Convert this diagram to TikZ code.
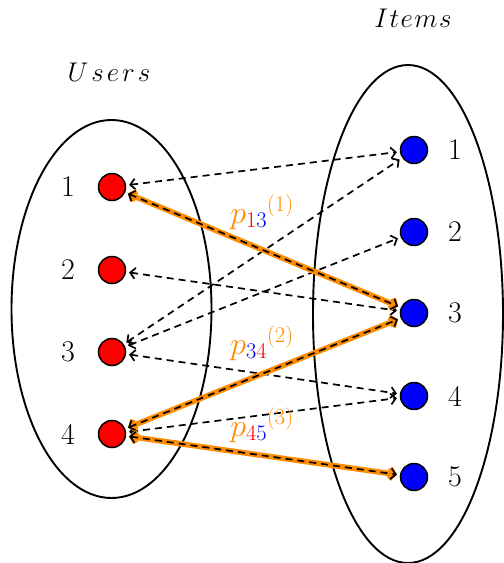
\RequirePackage{fix-cm}
\documentclass[tikz,border=0pt]{standalone}
\usetikzlibrary{arrows.meta}
\definecolor{myorange}{RGB}{255,140,0}
\tikzset{
  unode/.style={circle,draw=black,line width=1.5pt,fill=red,minimum size=27pt,inner sep=0pt},
  inode/.style={circle,draw=black,line width=1.5pt,fill=blue,minimum size=27pt,inner sep=0pt},
  numlab/.style={font=\fontsize{30}{34}\selectfont,inner sep=0pt},
  setlab/.style={font=\fontsize{27}{30}\selectfont,inner sep=0pt},
  plab/.style={font=\fontsize{32}{36}\selectfont,text=myorange,inner sep=0pt},
  blkedge/.style={draw=black,line width=1.7pt,dash pattern=on 7pt off 5pt,
    {Straight Barb[length=5pt,width=11pt,line width=1.7pt]}-{Straight Barb[length=5pt,width=11pt,line width=1.7pt]},
    shorten <=3pt,shorten >=3pt},
  orgedge/.style={draw=myorange,line width=5.5pt,
    {Straight Barb[length=4pt,width=11pt]}-{Straight Barb[length=4pt,width=11pt]},
    shorten <=3pt,shorten >=3pt},
  setellipse/.style={draw=black,line width=1.9pt}
}
\begin{document}
\begin{tikzpicture}[x=1pt,y=-1pt]
\useasboundingbox (0,0) rectangle (504,563);
% sets
\draw[setellipse] (111.5,309) ellipse [x radius=100pt, y radius=189pt];
\draw[setellipse] (408,314) ellipse [x radius=95pt, y radius=249pt];
\node[setlab] (users) at (109,72) {$U\mkern2mu s\mkern2mu e\mkern2mu r\mkern2mu s$};
\node[setlab] (items) at (413,18) {$I\mkern1mu t\mkern1mu e\mkern1mu m\mkern1mu s$};
% users
\node[unode] (u1) at (112,187) {};
\node[unode] (u2) at (112,270) {};
\node[unode] (u3) at (112,352) {};
\node[unode] (u4) at (112,434) {};
\node[numlab] (lu1) at (68,187) {1};
\node[numlab] (lu2) at (68,270) {2};
\node[numlab] (lu3) at (68,352) {3};
\node[numlab] (lu4) at (68,434) {4};
% items
\node[inode] (i1) at (414,150) {};
\node[inode] (i2) at (414,232) {};
\node[inode] (i3) at (414,313) {};
\node[inode] (i4) at (414,396) {};
\node[inode] (i5) at (414,477) {};
\node[numlab] (li1) at (455,150) {1};
\node[numlab] (li2) at (455,232) {2};
\node[numlab] (li3) at (455,313) {3};
\node[numlab] (li4) at (455,396) {4};
\node[numlab] (li5) at (455,477) {5};
% thin dashed edges
\draw[blkedge] (u1) -- (i1);
\draw[blkedge] (u3) -- (i1);
\draw[blkedge] (u3) -- (i2);
\draw[blkedge] (u2) -- (i3);
\draw[blkedge] (u3) -- (i4);
\draw[blkedge] (u4) -- (i4);
% highlighted path
\draw[orgedge] (u1) -- (i3);
\draw[blkedge] (u1) -- (i3);
\draw[orgedge] (u4) -- (i3);
\draw[blkedge] (u4) -- (i3);
\draw[orgedge] (u4) -- (i5);
\draw[blkedge] (u4) -- (i5);
% labels
\node[plab] (p1) at (262,212) {$p_{\textcolor{red}{1}\textcolor{blue}{3}}{}^{(1)}$};
\node[plab] (p2) at (262,343) {$p_{\textcolor{blue}{3}\textcolor{red}{4}}{}^{(2)}$};
\node[plab] (p3) at (262,425) {$p_{\textcolor{red}{4}\textcolor{blue}{5}}{}^{(3)}$};
\end{tikzpicture}
\end{document}
